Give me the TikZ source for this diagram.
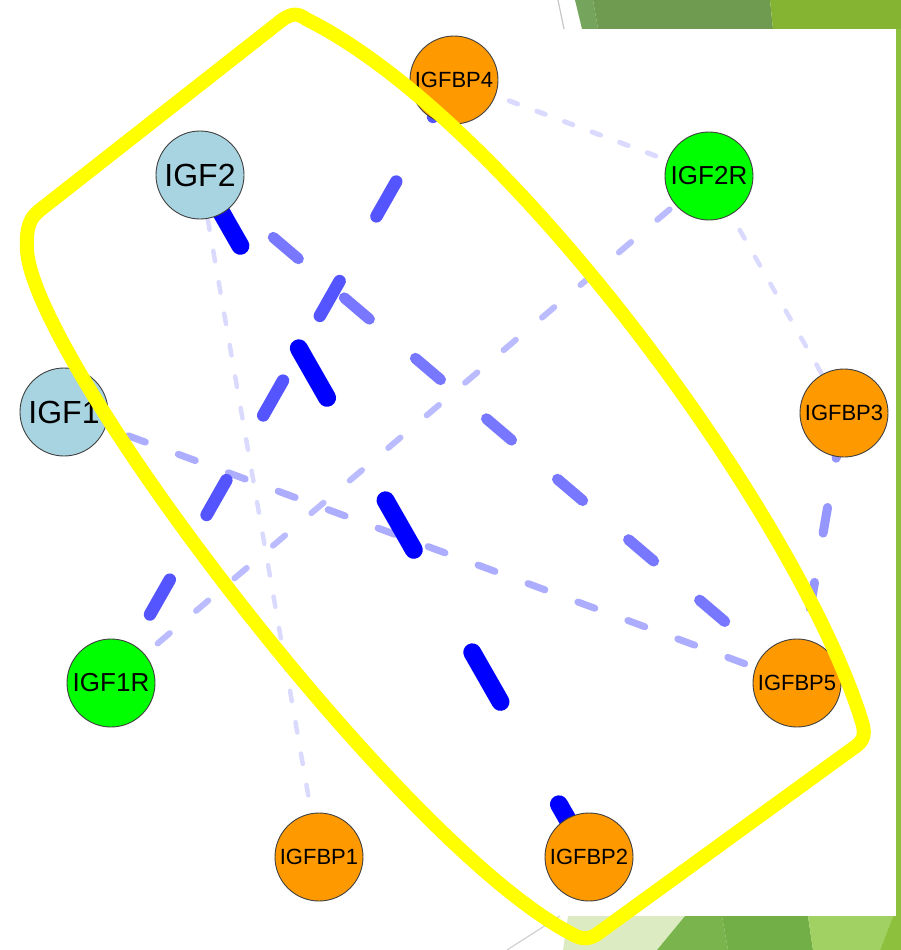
\documentclass[tikz,border=0pt]{standalone}
\usepackage{fontspec}
\setmainfont{Liberation Sans}
\usetikzlibrary{backgrounds}

\definecolor{ligand}{RGB}{168,212,226}
\definecolor{receptor}{RGB}{0,255,0}
\definecolor{binder}{RGB}{255,153,0}
\definecolor{hullyellow}{RGB}{255,255,0}
\definecolor{eA}{RGB}{0,0,255}
\definecolor{eB}{RGB}{85,85,255}
\definecolor{eC}{RGB}{119,119,255}
\definecolor{eD}{RGB}{150,150,255}
\definecolor{eE}{RGB}{173,173,255}
\definecolor{eF}{RGB}{187,187,255}
\definecolor{eG}{RGB}{218,218,255}
\definecolor{gA}{RGB}{117,165,93}
\definecolor{gB}{RGB}{111,155,80}
\definecolor{gC}{RGB}{132,180,50}
\definecolor{gD}{RGB}{141,192,60}
\definecolor{gE}{RGB}{220,235,193}
\definecolor{gF}{RGB}{121,180,77}
\definecolor{gG}{RGB}{114,175,71}
\definecolor{gH}{RGB}{160,209,98}

\begin{document}
\begin{tikzpicture}[x=1pt,y=-1pt,
  gene/.style={circle,draw=black!75,line width=0.9pt,minimum size=88pt,inner sep=0pt,text=black},
  big/.style={gene,font=\fontsize{32}{32}\selectfont},
  mid/.style={gene,font=\fontsize{26}{26}\selectfont},
  small/.style={gene,font=\fontsize{22}{22}\selectfont},
  link/.style={line cap=round},
]
\useasboundingbox (0,0) rectangle (901,950);

% genes
\node[big,fill=ligand]   (igf2)   at (200,175) {IGF2};
\node[big,fill=ligand]   (igf1)   at (64,412)  {IGF1};
\node[mid,fill=receptor] (igf2r)  at (709,176) {IGF2R};
\node[mid,fill=receptor] (igf1r)  at (111,683) {IGF1R};
\node[small,fill=binder] (igfbp4) at (454,80)  {IGFBP4};
\node[small,fill=binder] (igfbp3) at (844,413) {IGFBP3};
\node[small,fill=binder] (igfbp5) at (797,683) {IGFBP5};
\node[small,fill=binder] (igfbp1) at (319,857) {IGFBP1};
\node[small,fill=binder] (igfbp2) at (589,857) {IGFBP2};

\begin{pgfonlayer}{background}
  % slide decoration around the graph
  \fill[gA] (575,0) -- (593,0) -- (598,29) -- (582,29) -- cycle;
  \fill[gB] (593,0) -- (770,0) -- (773,29) -- (598,29) -- cycle;
  \fill[gC] (770,0) -- (901,0) -- (901,29) -- (773,29) -- cycle;
  \fill[gD] (896,29) rectangle (901,916);
  \draw[black!22,line width=1.2pt] (558,0) -- (564,29);
  \fill[gE] (568,916) -- (685,916) -- (657,950) -- (563,950) -- cycle;
  \fill[gF] (685,916) -- (722,916) -- (728,950) -- (657,950) -- cycle;
  \fill[gG] (722,916) -- (808,916) -- (813,950) -- (728,950) -- cycle;
  \fill[gH] (808,916) -- (893,916) -- (880,950) -- (813,950) -- cycle;
  \fill[gD] (893,916) -- (901,916) -- (901,950) -- (880,950) -- cycle;
  \draw[black!18,line width=1.2pt] (507,950) -- (560,916);

  % interactions
  \draw[link,eG,line width=4.5pt,dash pattern=on 10.5pt off 21.4pt,dash phase=18.75pt] (igf2.center) -- (igfbp1.center);
  \draw[link,eG,line width=5pt,dash pattern=on 9pt off 20.5pt] (igfbp4.center) -- (igf2r.center);
  \draw[link,eG,line width=4.5pt,dash pattern=on 10pt off 21pt] (igf2r.center) -- (igfbp3.center);
  \draw[link,eF,line width=6pt,dash pattern=on 16pt off 34.4pt,dash phase=39.7pt] (igf1r.center) -- (igf2r.center);
  \draw[link,eE,line width=7pt,dash pattern=on 18pt off 35.25pt,dash phase=37.8pt] (igf1.center) -- (igfbp5.center);
  \draw[link,eD,line width=9pt,dash pattern=on 26pt off 50pt,dash phase=56.1pt] (igfbp3.center) -- (igfbp5.center);
  \draw[link,eC,line width=11pt,dash pattern=on 33pt off 60.3pt,dash phase=90.4pt] (igf2.center) -- (igfbp5.center);
  \draw[link,eB,line width=12.5pt,dash pattern=on 40pt off 74.5pt,dash phase=35.65pt] (igf1r.center) -- (igfbp4.center);
  \draw[link,eA,line width=18pt,dash pattern=on 57pt off 118pt,dash phase=150.5pt] (igf2.center) -- (igfbp2.center);
\end{pgfonlayer}

% cluster outline
\draw[hullyellow,line width=14pt,line join=round]
  (40,210) -- (282,20)
  .. controls (292,13) and (298,13) .. (306,19)
  .. controls (510,120) and (800,520) .. (862,722)
  .. controls (867,738) and (861,743) .. (852,749)
  -- (600,932)
  .. controls (590,940) and (582,940) .. (572,934)
  .. controls (400,845) and (33,360) .. (27,250)
  .. controls (26,226) and (30,218) .. cycle;
\end{tikzpicture}
\end{document}
